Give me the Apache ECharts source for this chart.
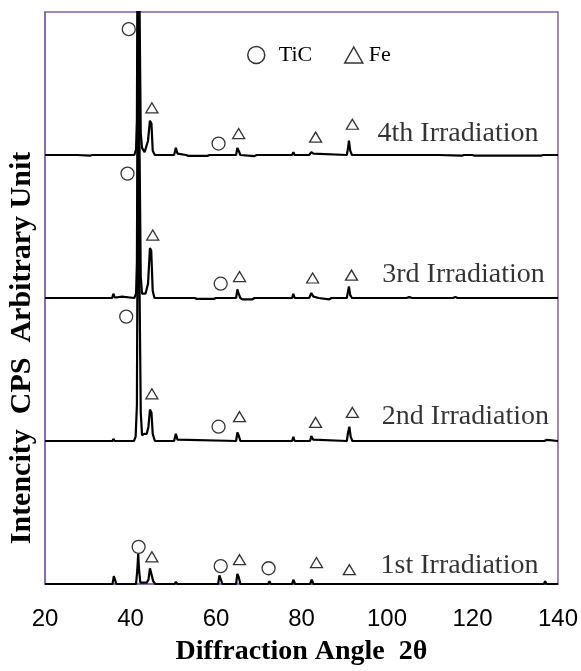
<!DOCTYPE html>
<html>
<head>
<meta charset="utf-8">
<script src="https://cdn.jsdelivr.net/npm/echarts@6/dist/echarts.min.js"></script>
<style>html,body{margin:0;padding:0;background:#fff;}#c{width:581px;height:671px;}</style>
</head>
<body>
<div id="c"></div>
<script>
// ---- data (intensity relative to each trace's own baseline, arbitrary units) ----
const xTicks = [20, 40, 60, 80, 100, 120, 140];
const traceNames = ['1st Irradiation', '2nd Irradiation', '3rd Irradiation', '4th Irradiation'];
const traceOffsets = [0, 1, 2, 3];

const trace1 = [[20,0],[29.5,0],[29.8,0.005],[30.1,0],[35.8,0],[36.1,0.055],[36.4,0.05],[36.7,0],[41.3,0],[41.6,0.1],[41.8,0.21],[42.0,0.1],[42.3,0.01],[43.0,0.01],[43.4,0.02],[43.8,0.01],[44.2,0.03],[44.55,0.11],[44.9,0.1],[45.3,0.02],[45.8,0],[50.3,0],[50.6,0.015],[51.0,0],[60.5,0],[60.8,0.06],[61.1,0.05],[61.5,0],[64.7,0],[65.0,0.07],[65.3,0.05],[65.7,0],[72.2,0],[72.5,0.02],[72.8,0],[75.8,0],[76.1,0.01],[76.4,0],[77.8,0],[78.1,0.03],[78.5,0],[82.0,0],[82.4,0.03],[82.8,0],[91.0,0],[91.3,0.01],[91.6,0],[99.6,0],[99.9,0.01],[100.2,0],[105.4,0],[105.7,0.008],[106.0,0],[116.5,0],[116.8,0.01],[117.1,0],[136.7,0],[137.0,0.02],[137.3,0],[140,0]];

const trace2 = [[20,0],[28,0],[28.3,0.005],[28.6,0],[35.8,0],[36.0,0.015],[36.3,0],[37.5,0],[37.8,0.008],[38.1,0],[40.8,0],[41.2,0.03],[41.5,0.25],[41.75,2.2],[42.15,2.2],[42.4,0.2],[42.7,0.04],[43.2,0.05],[43.8,0.05],[44.2,0.1],[44.55,0.22],[44.9,0.2],[45.2,0.05],[45.7,0],[50.2,0],[50.6,0.05],[51.0,0.01],[51.4,0],[64.7,0],[65.0,0.06],[65.3,0.04],[65.7,0],[74.3,0],[74.6,-0.01],[74.9,0],[76.3,0],[76.6,0.006],[76.9,0],[77.8,0],[78.1,0.03],[78.4,0],[82.0,0],[82.3,0.035],[82.7,0.01],[83.1,0],[90.6,0],[90.9,0.06],[91.2,0.1],[91.5,0.03],[91.9,0],[99.8,0],[100.0,0.008],[100.3,0],[112.8,0],[113.0,0.006],[113.3,0],[136.8,0],[137.0,0.01],[137.4,0.008],[137.7,0],[140,0]];

const trace3 = [[20,0],[35.7,0],[36.0,0.03],[36.3,0.005],[37.0,0.005],[38.0,0.01],[38.3,0.005],[40.9,0],[41.3,0.03],[41.5,0.25],[41.75,2.2],[42.15,2.2],[42.4,0.15],[42.7,0.03],[43.5,0.03],[44.1,0.1],[44.55,0.35],[44.85,0.33],[45.2,0.05],[45.6,0],[50.3,0],[50.6,0.012],[50.9,0],[55,0],[55.5,-0.006],[59.5,-0.006],[60,0],[64.7,0],[65.0,0.06],[65.3,0.03],[65.7,0],[66.2,-0.01],[68.5,-0.01],[69,0],[72.3,0],[72.5,0.008],[72.8,0],[77.8,0],[78.1,0.03],[78.4,0],[79.2,0],[79.5,-0.008],[79.8,0],[81.8,0],[82.3,0.035],[82.8,0.01],[83.2,0],[84,0],[84.3,-0.01],[86.5,-0.01],[87,0],[90.6,0],[90.9,0.05],[91.1,0.08],[91.4,0.02],[91.8,0],[93.5,0],[93.8,-0.01],[94.1,0],[104.5,0],[105.2,0.006],[105.9,0],[115.5,0],[116,0.008],[116.5,0],[137.3,0],[137.6,0.01],[137.9,0],[140,0]];

const trace4 = [[20,0],[27.5,0],[27.8,-0.005],[30.5,-0.005],[31,0],[35.8,0],[36.0,0.01],[36.3,0],[40.9,0],[41.3,0.04],[41.5,0.25],[41.75,2.2],[42.15,2.2],[42.4,0.15],[42.7,0.05],[43.3,0.02],[44.1,0.1],[44.55,0.24],[44.9,0.22],[45.2,0.03],[45.7,0],[50.2,0],[50.6,0.05],[51,0.01],[51.4,0],[53,0],[53.5,-0.006],[58,-0.006],[58.5,0],[64.7,0],[65.0,0.05],[65.3,0.03],[65.7,0],[66,-0.008],[69,-0.008],[69.5,0],[77.8,0],[78.1,0.02],[78.4,0],[81.8,0],[82.3,0.02],[82.8,0.01],[83.2,0],[90.6,0],[90.9,0.05],[91.1,0.1],[91.4,0.03],[91.8,0],[94,0],[94.3,-0.005],[94.6,0],[100,0],[100.3,0.01],[100.6,0],[112,0],[112.3,-0.005],[117.5,-0.005],[118,0],[120,0],[120.5,-0.005],[136,-0.005],[136.5,0],[140,0]];

// peak identification markers (absolute positions on the stacked plot)
const ticMarks = [[39.6,3.88],[39.3,2.87],[39.0,1.87],[60.6,3.08],[61.1,2.10],[60.6,1.10],[41.9,0.26],[61.1,0.125],[72.3,0.11]];
const feMarks = [[45.0,3.33],[65.3,3.15],[83.3,3.125],[91.9,3.215],[45.2,2.44],[65.5,2.15],[82.6,2.14],[91.7,2.16],[45.0,1.33],[65.5,1.17],[83.3,1.13],[91.9,1.20],[45.0,0.19],[65.5,0.17],[83.5,0.15],[91.2,0.10]];

// trace label anchor points
const labelAngles = [98.5, 98.8, 98.9, 97.8];
const labelHeights = [0.13, 1.17, 2.16, 3.15];

// ---- chart ----
const PURPLE = '#8064A2';
const SERIF = '"Liberation Serif","Times New Roman",serif';
const SANS = '"Liberation Sans",Arial,sans-serif';
const traces = [trace1, trace2, trace3, trace4];

const series = traces.map((t, i) => ({
  type: 'line',
  name: traceNames[i],
  data: t.map(p => [p[0], p[1] + traceOffsets[i]]),
  showSymbol: false,
  symbol: 'none',
  clip: i !== 0,
  lineStyle: { color: '#000', width: 2.2 },
  z: 2,
  silent: true
}));

const markStyle = { color: '#fff', borderColor: '#000', borderWidth: 1.3 };
series.push({
  type: 'scatter', name: 'TiC', symbol: 'circle', symbolSize: 13,
  data: ticMarks, itemStyle: markStyle, z: 5
});
series.push({
  type: 'scatter', name: 'Fe', symbol: 'triangle', symbolSize: [12, 10],
  data: feMarks, itemStyle: markStyle, z: 5
});
series.push({
  type: 'scatter', name: 'labels', symbolSize: 0,
  data: labelAngles.map((a, i) => ({ value: [a, labelHeights[i]], name: traceNames[i] })),
  label: {
    show: true, position: 'inside', align: 'left', verticalAlign: 'middle',
    formatter: p => p.name, color: '#000', fontFamily: SERIF, fontSize: 28
  },
  z: 6, silent: true
});

const chart = echarts.init(document.getElementById('c'), null, { renderer: 'canvas' });
chart.setOption({
  animation: false,
  backgroundColor: '#fff',
  grid: { left: 45, right: 22, top: 12, bottom: 85, show: true, borderColor: PURPLE, borderWidth: 1.5, backgroundColor: 'transparent' },
  legend: [
    { data: ['TiC'], left: 242, top: 39, itemWidth: 17, itemHeight: 17, itemStyle: { borderWidth: 1.5 },
      textStyle: { fontFamily: SERIF, fontSize: 22, color: '#000', padding: [0, 0, 0, 9] } },
    { data: ['Fe'], left: 339, top: 39, itemWidth: 18, itemHeight: 16, itemStyle: { borderWidth: 1.5 },
      textStyle: { fontFamily: SERIF, fontSize: 22, color: '#000', padding: [0, 0, 0, 1] } }
  ],
  xAxis: {
    type: 'value', min: xTicks[0], max: xTicks[xTicks.length - 1], interval: 20,
    name: 'Diffraction Angle  2θ', nameLocation: 'middle', nameGap: 54,
    nameTextStyle: { fontFamily: SERIF, fontWeight: 'bold', fontSize: 28, color: '#000' },
    axisLine: { show: true, lineStyle: { color: PURPLE, width: 1.5 } },
    axisTick: { show: false },
    splitLine: { show: false },
    axisLabel: { margin: 23, fontFamily: SANS, fontSize: 24, color: '#000' }
  },
  yAxis: {
    type: 'value', min: 0, max: 4, interval: 1,
    axisLine: { show: true, lineStyle: { color: PURPLE, width: 1.5 } },
    axisTick: { show: true, inside: true, length: 11, customValues: [1, 2, 3], lineStyle: { color: '#000', width: 1 } },
    axisLabel: { show: false },
    splitLine: { show: false }
  },
  graphic: [{
    type: 'text', x: 22, y: 348, rotation: Math.PI / 2,
    style: { text: 'Intencity  CPS  Arbitrary Unit', fontFamily: SERIF, fontWeight: 'bold', fontSize: 30, fill: '#000', align: 'center', verticalAlign: 'middle' }
  }],
  series: series
});
</script>
</body>
</html>
